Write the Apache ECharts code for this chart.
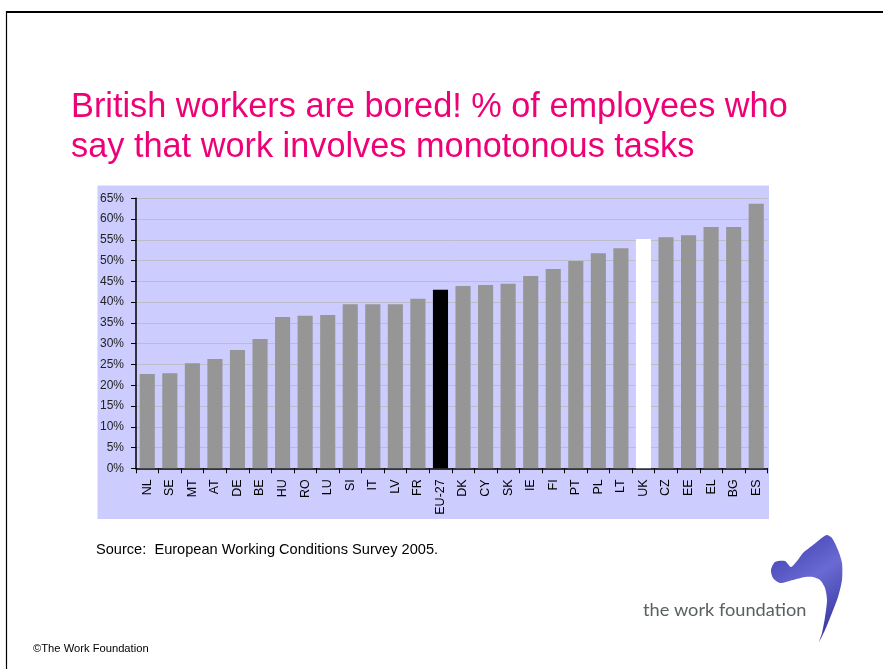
<!DOCTYPE html>
<html>
<head>
<meta charset="utf-8">
<script src="https://cdn.jsdelivr.net/npm/echarts@6/dist/echarts.min.js"></script>
<style>
html,body{margin:0;padding:0;background:#fff;}
#c{width:883px;height:669px;}
</style>
</head>
<body>
<div id="c"></div>
<script>
var categories = ['NL','SE','MT','AT','DE','BE','HU','RO','LU','SI','IT','LV','FR','EU-27','DK','CY','SK','IE','FI','PT','PL','LT','UK','CZ','EE','EL','BG','ES'];
var values = [22.7,22.9,25.3,26.3,28.5,31.1,36.4,36.7,36.9,39.5,39.5,39.5,40.8,43.0,43.9,44.1,44.4,46.3,48.0,49.9,51.8,53.0,55.2,55.6,56.1,58.1,58.1,63.7];
var highlight = {'EU-27':'#000000','UK':'#FFFFFF'};
var titleLines = ['British workers are bored! % of employees who','say that work involves monotonous tasks'];
var sourceText = 'Source:  European Working Conditions Survey 2005.';
var copyrightText = '\u00A9The Work Foundation';
var logoText = 'the work foundation';

var chart = echarts.init(document.getElementById('c'), null, {renderer:'canvas'});
var barData = categories.map(function(c,i){
  return {value: values[i], itemStyle:{color: highlight[c] || '#969696'}};
});
var font = '"Liberation Sans", Arial, sans-serif';
var swirlPts = [[827,535],[832,538],[838,550],[842,563],[842,580],[838,597],[832,613],[825,630],[819,642],[822,633],[825,617],[827,600],[825,588],[820,580],[813,577],[805,577],[793,580],[780,583],[773,578],[771,570],[775,562],[785,561],[791,567],[797,561],[803,553],[813,545],[823,537]];
chart.setOption({
  backgroundColor:'#FFFFFF',
  animation:false,
  title: [
    {text:titleLines[0], left:71, top:91, padding:0, textStyle:{color:'#EE0077', fontSize:34.3, fontWeight:'normal', fontFamily:font}},
    {text:titleLines[1], left:71, top:130.5, padding:0, textStyle:{color:'#EE0077', fontSize:34.3, fontWeight:'normal', fontFamily:font}}
  ],
  grid:{left:136, right:115.5, top:198.3, bottom:200.7, containLabel:false},
  xAxis:{
    type:'category', data:categories,
    axisLine:{lineStyle:{color:'#000', width:1.5}},
    axisTick:{show:true, interval:0, length:5, lineStyle:{color:'#000'}},
    axisLabel:{interval:0, rotate:90, margin:11, color:'#000', fontSize:12.5, fontFamily:font},
    splitLine:{show:false}
  },
  yAxis:{
    type:'value', min:0, max:65, interval:5,
    axisLine:{show:true, lineStyle:{color:'#000', width:1.5}},
    axisTick:{show:true, length:5, lineStyle:{color:'#000'}},
    axisLabel:{formatter:'{value}%', color:'#222', fontSize:12, fontFamily:font, margin:12},
    splitLine:{show:true, lineStyle:{color:'#BDBDC8', width:1}}
  },
  series:[{type:'bar', data:barData, barCategoryGap:'33%', z:3}],
  graphic:[
    {type:'rect', z:-10, silent:true, shape:{x:97.5, y:185.5, width:671.5, height:333.5}, style:{fill:'#CCCCFF'}},
    {type:'line', z:5, shape:{x1:6, y1:12, x2:883, y2:12}, style:{stroke:'#000', lineWidth:2}},
    {type:'line', z:5, shape:{x1:6.5, y1:11, x2:6.5, y2:669}, style:{stroke:'#000', lineWidth:1.2}},
    {type:'text', x:96, y:542, style:{text:sourceText, fill:'#000', font:'14.6px ' + font}},
    {type:'text', x:33, y:643, style:{text:copyrightText, fill:'#000', font:'11.2px ' + font}},
    {type:'text', x:643, y:601, style:{text:logoText, fill:'#5A6062', font:'18.2px Lato, "Open Sans", sans-serif'}},
    {type:'polygon', z:5, shape:{points:swirlPts, smooth:0.25},
      style:{fill:{type:'linear', x:0, y:0, x2:1, y2:1, colorStops:[{offset:0,color:'#3a3ab0'},{offset:0.45,color:'#6a6ad2'},{offset:1,color:'#2a2a95'}]}}}
  ]
});
</script>
</body>
</html>
